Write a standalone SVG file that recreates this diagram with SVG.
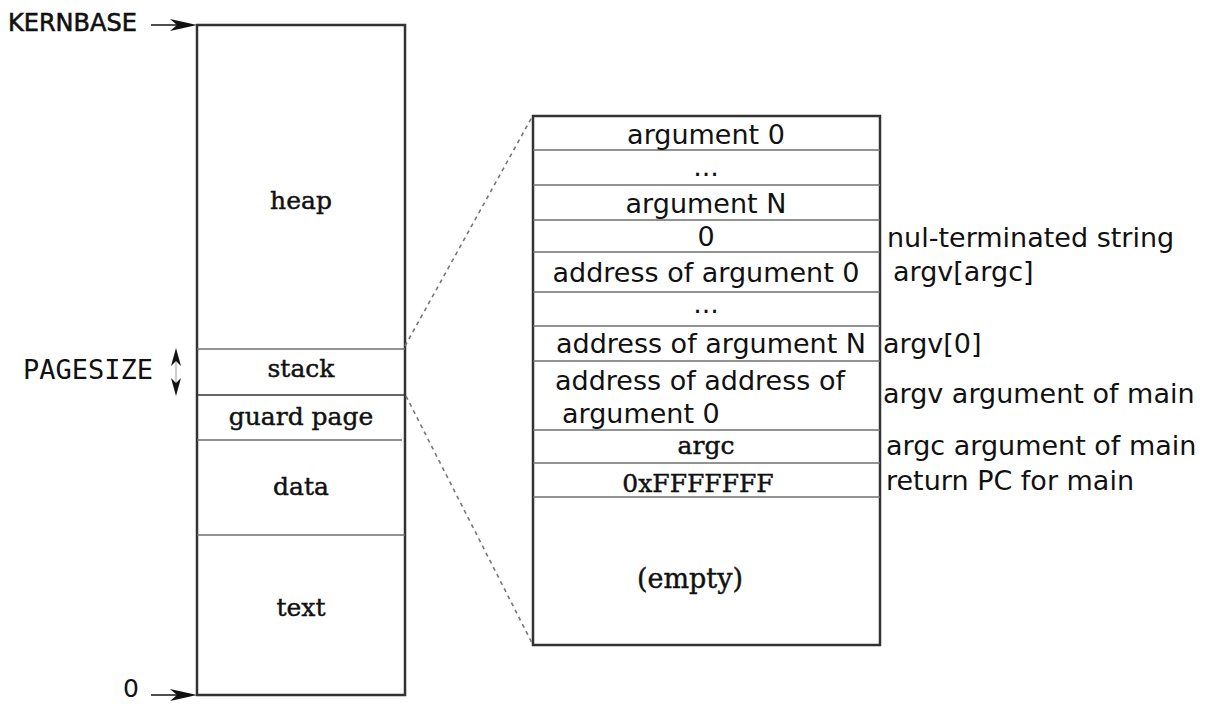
<svg xmlns="http://www.w3.org/2000/svg" width="1214" height="704" viewBox="0 0 1214 704">
<style>
.box{fill:none;stroke:#333;stroke-width:2.5}
.div{stroke:#6e6e6e;stroke-width:1.6;fill:none}
.sans{font-family:"DejaVu Sans","Liberation Sans",sans-serif;font-size:27px;fill:#111}
.ser{font-family:"DejaVu Serif","Liberation Serif",serif;font-size:25px;fill:#111;stroke:#111;stroke-width:0.45}
.mono{font-family:"DejaVu Sans Mono","Liberation Mono",monospace;font-size:27px;fill:#111}
.mid{text-anchor:middle}
.dash{stroke:#777;stroke-width:1.6;stroke-dasharray:4 4;fill:none}
.ln{stroke:#222;stroke-width:1.6;fill:none}
.head{fill:#111;stroke:none}
</style>
<rect width="1214" height="704" fill="#fff"/>

<g id="memory">
  <rect class="box" x="197" y="25" width="208" height="670"/>
  <line class="div" x1="197" y1="349" x2="405" y2="349"/>
  <line class="div" x1="197" y1="395" x2="405" y2="395" style="stroke:#333"/>
  <line class="div" x1="197" y1="440" x2="402" y2="440"/>
  <line class="div" x1="197" y1="535" x2="405" y2="535"/>
</g>
<g id="heap"><text class="ser mid" x="301" y="209">heap</text></g>
<g id="stack"><text class="ser mid" x="301" y="377">stack</text></g>
<g id="guard"><text class="ser mid" x="301" y="425">guard page</text></g>
<g id="data"><text class="ser mid" x="301" y="495">data</text></g>
<g id="textseg"><text class="ser mid" x="301" y="616">text</text></g>

<g id="kernbase"><text x="8" y="31" style="font-family:'DejaVu Sans','Liberation Sans',sans-serif;font-size:24px;fill:#111;stroke:#111;stroke-width:0.6">KERNBASE</text></g>
<g id="pagesize"><text class="mono" x="23" y="379">PAGESIZE</text></g>
<g id="zero"><text x="123" y="697" style="font-family:'DejaVu Sans','Liberation Sans',sans-serif;font-size:25px;fill:#111">0</text></g>

<g id="stackdetail">
  <rect class="box" x="533" y="116" width="347" height="529"/>
  <line class="div" x1="533" y1="150" x2="880" y2="150"/>
  <line class="div" x1="533" y1="185" x2="880" y2="185"/>
  <line class="div" x1="533" y1="220" x2="880" y2="220"/>
  <line class="div" x1="533" y1="252" x2="880" y2="252"/>
  <line class="div" x1="533" y1="292" x2="880" y2="292"/>
  <line class="div" x1="533" y1="326" x2="880" y2="326"/>
  <line class="div" x1="533" y1="361" x2="880" y2="361"/>
  <line class="div" x1="533" y1="430" x2="880" y2="430"/>
  <line class="div" x1="533" y1="463" x2="880" y2="463"/>
  <line class="div" x1="533" y1="497" x2="880" y2="497"/>
</g>
<g id="arg0"><text class="sans mid" x="706" y="144">argument 0</text></g>
<g id="dots1"><text class="sans mid" x="706" y="176">...</text></g>
<g id="argN"><text class="sans mid" x="706" y="213">argument N</text></g>
<g id="nul"><text class="sans mid" x="706" y="246">0</text></g>
<g id="addr0"><text class="sans mid" x="706" y="282">address of argument 0</text></g>
<g id="dots2"><text class="sans mid" x="706" y="313">...</text></g>
<g id="addrN"><text class="sans mid" x="711" y="353">address of argument N</text></g>
<g id="addraddr">
  <text class="sans" x="555" y="390">address of address of</text>
  <text class="sans" x="562" y="423">argument 0</text>
</g>
<g id="argc"><text class="ser mid" x="706" y="454">argc</text></g>
<g id="retpc"><text class="ser mid" x="698" y="492">0xFFFFFFF</text></g>
<g id="empty"><text class="ser mid" x="690" y="588" style="font-size:27px">(empty)</text></g>

<g id="notes">
  <text class="sans" x="887" y="247">nul-terminated string</text>
  <text class="sans" x="893" y="281">argv[argc]</text>
  <text class="sans" x="883" y="353">argv[0]</text>
  <text class="sans" x="883" y="403">argv argument of main</text>
  <text class="sans" x="886" y="455">argc argument of main</text>
  <text class="sans" x="886" y="490">return PC for main</text>
</g>

<g id="connectors">
  <line class="ln" x1="151" y1="25" x2="180" y2="25"/>
  <path class="head" d="M197,25 L170,19 L177,25 L170,31 Z"/>
  <line class="ln" x1="151" y1="695" x2="180" y2="695"/>
  <path class="head" d="M197,695 L170,689 L177,695 L170,701 Z"/>
  <line class="ln" x1="176" y1="360" x2="176" y2="384" style="stroke:#999;stroke-width:1"/>
  <path class="head" d="M176,348 L171,366 L176,361 L181,366 Z"/>
  <path class="head" d="M176,396 L171,378 L176,383 L181,378 Z"/>
  <line class="dash" x1="405" y1="346" x2="532" y2="117"/>
  <line class="dash" x1="406" y1="396" x2="532" y2="643"/>
</g>
</svg>
